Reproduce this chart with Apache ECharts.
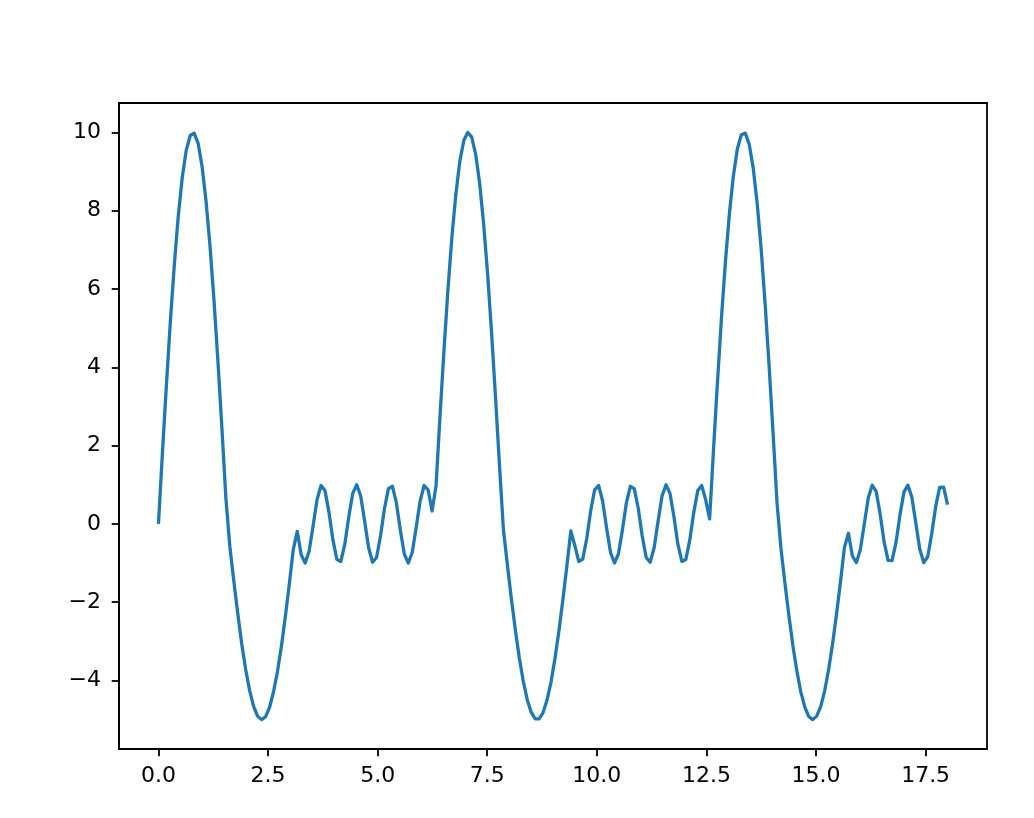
<!DOCTYPE html>
<html>
<head>
<meta charset="utf-8">
<script src="https://cdn.jsdelivr.net/npm/echarts@6/dist/echarts.min.js"></script>
<style>
  html, body { margin: 0; padding: 0; background: #ffffff; }
  #chart { width: 1034px; height: 818px; }
</style>
</head>
<body>
<div id="chart"></div>
<script>
// x positions of the samples
const xValues = [
  0.000, 0.090, 0.181, 0.271, 0.362, 0.452, 0.543, 0.633, 0.724, 0.814,
  0.905, 0.995, 1.085, 1.176, 1.266, 1.357, 1.447, 1.538, 1.628, 1.719,
  1.809, 1.899, 1.990, 2.080, 2.171, 2.261, 2.352, 2.442, 2.533, 2.623,
  2.714, 2.804, 2.894, 2.985, 3.075, 3.166, 3.256, 3.347, 3.437, 3.528,
  3.618, 3.709, 3.799, 3.889, 3.980, 4.070, 4.161, 4.251, 4.342, 4.432,
  4.523, 4.613, 4.704, 4.794, 4.884, 4.975, 5.065, 5.156, 5.246, 5.337,
  5.427, 5.518, 5.608, 5.698, 5.789, 5.879, 5.970, 6.060, 6.151, 6.241,
  6.332, 6.422, 6.513, 6.603, 6.693, 6.784, 6.874, 6.965, 7.055, 7.146,
  7.236, 7.327, 7.417, 7.508, 7.598, 7.688, 7.779, 7.869, 7.960, 8.050,
  8.141, 8.231, 8.322, 8.412, 8.503, 8.593, 8.683, 8.774, 8.864, 8.955,
  9.045, 9.136, 9.226, 9.317, 9.407, 9.497, 9.588, 9.678, 9.769, 9.859,
  9.950, 10.040, 10.131, 10.221, 10.312, 10.402, 10.492, 10.583, 10.673, 10.764,
  10.854, 10.945, 11.035, 11.126, 11.216, 11.307, 11.397, 11.487, 11.578, 11.668,
  11.759, 11.849, 11.940, 12.030, 12.121, 12.211, 12.302, 12.392, 12.482, 12.573,
  12.663, 12.754, 12.844, 12.935, 13.025, 13.116, 13.206, 13.296, 13.387, 13.477,
  13.568, 13.658, 13.749, 13.839, 13.930, 14.020, 14.111, 14.201, 14.291, 14.382,
  14.472, 14.563, 14.653, 14.744, 14.834, 14.925, 15.015, 15.106, 15.196, 15.286,
  15.377, 15.467, 15.558, 15.648, 15.739, 15.829, 15.920, 16.010, 16.101, 16.191,
  16.281, 16.372, 16.462, 16.553, 16.643, 16.734, 16.824, 16.915, 17.005, 17.095,
  17.186, 17.276, 17.367, 17.457, 17.548, 17.638, 17.729, 17.819, 17.910, 18.000
];

// y values of the line
const yValues = [
  0.00, 1.80, 3.54, 5.16, 6.62, 7.86, 8.85, 9.54, 9.92, 9.98,
  9.72, 9.13, 8.25, 7.10, 5.72, 4.15, 2.45, 0.66, -0.57, -1.46,
  -2.29, -3.06, -3.72, -4.26, -4.66, -4.91, -5.00, -4.93, -4.69, -4.30,
  -3.78, -3.13, -2.37, -1.54, -0.66, -0.19, -0.79, -1.00, -0.70, -0.05,
  0.62, 0.98, 0.85, 0.30, -0.41, -0.91, -0.96, -0.52, 0.18, 0.78,
  1.00, 0.71, 0.07, -0.61, -0.98, -0.86, -0.31, 0.39, 0.90, 0.96,
  0.54, -0.16, -0.77, -1.00, -0.73, -0.09, 0.59, 0.98, 0.87, 0.33,
  0.97, 2.74, 4.43, 5.97, 7.32, 8.42, 9.26, 9.79, 10.00, 9.88,
  9.44, 8.70, 7.67, 6.39, 4.90, 3.25, 1.50, -0.15, -1.05, -1.91,
  -2.71, -3.42, -4.02, -4.49, -4.81, -4.98, -4.98, -4.82, -4.50, -4.04,
  -3.44, -2.73, -1.93, -1.07, -0.18, -0.55, -0.96, -0.90, -0.38, 0.33,
  0.87, 0.98, 0.59, -0.09, -0.73, -1.00, -0.77, -0.16, 0.53, 0.96,
  0.90, 0.40, -0.31, -0.86, -0.98, -0.61, 0.07, 0.71, 1.00, 0.78,
  0.18, -0.52, -0.96, -0.91, -0.41, 0.29, 0.85, 0.98, 0.62, 0.13,
  1.93, 3.66, 5.28, 6.72, 7.94, 8.90, 9.58, 9.94, 9.98, 9.69,
  9.08, 8.18, 7.01, 5.61, 4.03, 2.32, 0.53, -0.64, -1.52, -2.35,
  -3.11, -3.76, -4.29, -4.68, -4.92, -5.00, -4.91, -4.67, -4.27, -3.73,
  -3.07, -2.31, -1.48, -0.60, -0.24, -0.82, -0.99, -0.66, 0.00, 0.66,
  0.99, 0.83, 0.25, -0.46, -0.93, -0.94, -0.48, 0.23, 0.81, 0.99,
  0.68, 0.02, -0.65, -0.99, -0.84, -0.26, 0.44, 0.93, 0.94, 0.49
];

// tick values
const xTicks = [0, 2.5, 5, 7.5, 10, 12.5, 15, 17.5];
const yTicks = [-4, -2, 0, 2, 4, 6, 8, 10];

const seriesData = xValues.map((x, i) => [x, yValues[i]]);

const fontFamily = "'DejaVu Sans', sans-serif";

const chart = echarts.init(document.getElementById('chart'), null, { renderer: 'canvas' });
chart.setOption({
  backgroundColor: '#ffffff',
  animation: false,
  grid: {
    left: 119, right: 47, top: 103, bottom: 69,
    show: true, borderColor: '#000000', borderWidth: 1.8, backgroundColor: 'transparent'
  },
  xAxis: {
    type: 'value',
    min: -0.9, max: 18.9,
    position: 'bottom',
    splitLine: { show: false },
    axisLine: { show: true, onZero: false, lineStyle: { color: '#000000', width: 1.8 } },
    axisTick: { show: true, inside: false, length: 7.3, customValues: xTicks,
      lineStyle: { color: '#000000', width: 1.8 } },
    axisLabel: {
      show: true, customValues: xTicks, margin: 16,
      color: '#000000', fontSize: 22, fontFamily: fontFamily,
      formatter: v => (v < 0 ? '\u2212' : '') + Math.abs(v).toFixed(1)
    }
  },
  yAxis: {
    type: 'value',
    min: -5.75, max: 10.75,
    position: 'left',
    splitLine: { show: false },
    axisLine: { show: true, onZero: false, lineStyle: { color: '#000000', width: 1.8 } },
    axisTick: { show: true, inside: false, length: 7.3, customValues: yTicks,
      lineStyle: { color: '#000000', width: 1.8 } },
    axisLabel: {
      show: true, customValues: yTicks, margin: 18,
      color: '#000000', fontSize: 22, fontFamily: fontFamily,
      formatter: v => (v < 0 ? '\u2212' : '') + Math.abs(v).toString()
    }
  },
  series: [{
    type: 'line',
    data: seriesData,
    showSymbol: false,
    symbol: 'none',
    clip: true,
    lineStyle: { color: '#1f77b4', width: 3.3, cap: 'butt', join: 'round' },
    itemStyle: { color: '#1f77b4' }
  }]
});
</script>
</body>
</html>
